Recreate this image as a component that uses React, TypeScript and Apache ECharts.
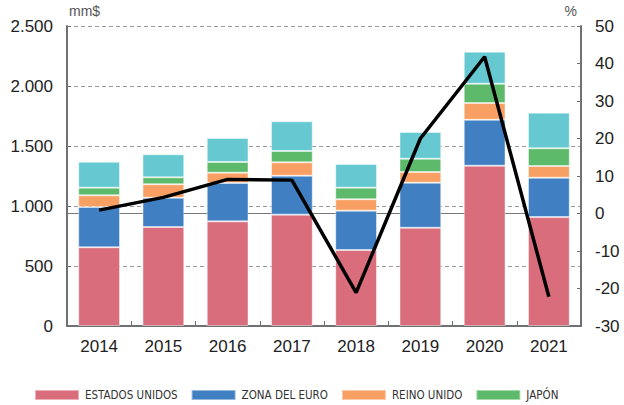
import React, { useEffect, useRef } from "react";
import * as echarts from "echarts";

const years = ["2014", "2015", "2016", "2017", "2018", "2019", "2020", "2021"];
const estadosUnidos = [656, 825, 872, 928, 633, 819, 1336, 908];
const zonaEuro = [336, 244, 320, 325, 328, 375, 383, 328];
const reinoUnido = [97, 112, 86, 111, 95, 89, 139, 97];
const japon = [64, 58, 89, 94, 97, 111, 161, 148];
const resto = [216, 192, 200, 248, 197, 223, 267, 297];
const variacion = [0.9, 4.3, 9.1, 8.9, -21.1, 20.0, 41.8, -22.2];

const barNames = ["ESTADOS UNIDOS", "ZONA DEL EURO", "REINO UNIDO", "JAPÓN", "RESTO"];
const legendNames = ["ESTADOS UNIDOS", "ZONA DEL EURO", "REINO UNIDO", "JAPÓN"];
const barColors = ["#D96D7C", "#3F7FC2", "#F89F63", "#5DBA6A", "#66C9D1"];
const lineName = "TASA DE VARIACIÓN";

export default function App() {
  const ref = useRef<HTMLDivElement>(null);
  useEffect(() => {
    if (!ref.current) return;
    const chart = echarts.init(ref.current, undefined, { renderer: "svg" });
    const barData = [estadosUnidos, zonaEuro, reinoUnido, japon, resto];
    const axisFont = { fontFamily: "Liberation Sans, Arial, sans-serif", fontSize: 17, color: "#222" };
    const axisLine = { show: true, lineStyle: { color: "#6f7073", width: 2 } };
    chart.setOption({
      animation: false,
      grid: { left: 67, right: 43, top: 26, bottom: 79 },
      legend: {
        left: 34,
        top: 389,
        padding: 0,
        width: 600,
        itemWidth: 44,
        itemHeight: 10,
        itemGap: 13,
        icon: "rect",
        textStyle: {
          fontFamily: "DejaVu Sans Condensed, sans-serif",
          fontSize: 11.5,
          color: "#333",
          padding: [0, 0, 0, 1],
        },
        data: legendNames,
      },
      xAxis: {
        type: "category",
        data: years,
        axisLine: axisLine,
        axisTick: { show: true, inside: true, length: 5, lineStyle: { color: "#6f7073", width: 1 } },
        axisLabel: { ...axisFont, margin: 12 },
      },
      yAxis: [
        {
          type: "value",
          min: 0,
          max: 2500,
          interval: 500,
          name: "mm$",
          nameLocation: "end",
          nameGap: 8,
          nameTextStyle: { fontFamily: "Liberation Sans, Arial, sans-serif", fontSize: 14, color: "#555", align: "left", padding: [0, 0, 0, 2] },
          axisLine: axisLine,
          axisTick: { show: true, inside: true, length: 4, lineStyle: { color: "#6f7073" } },
          axisLabel: {
            ...axisFont,
            margin: 14,
            formatter: (v: number) => v.toLocaleString("de-DE"),
          },
          splitLine: { show: true, lineStyle: { color: "#9a9a9a", type: [4, 3], width: 1 } },
        },
        {
          type: "value",
          min: -30,
          max: 50,
          interval: 10,
          name: "%",
          nameLocation: "end",
          nameGap: 8,
          nameTextStyle: { fontFamily: "Liberation Sans, Arial, sans-serif", fontSize: 14, color: "#555", align: "right", padding: [0, 4, 0, 0] },
          axisLine: axisLine,
          axisTick: { show: true, inside: true, length: 4, lineStyle: { color: "#6f7073" } },
          axisLabel: { ...axisFont, margin: 14 },
          splitLine: { show: false },
        },
      ],
      series: [
        ...barNames.map((name, i) => ({
          name,
          type: "bar",
          stack: "total",
          barWidth: "65%",
          data: barData[i],
          itemStyle: { color: barColors[i], borderColor: "rgba(255,255,255,0.45)", borderWidth: 1 },
        })),
        {
          name: lineName,
          type: "line",
          yAxisIndex: 1,
          data: variacion,
          symbol: "none",
          z: 5,
          lineStyle: { color: "#000", width: 3.5 },
          itemStyle: { color: "#000" },
          markLine: {
            silent: true,
            symbol: ["none", "none"],
            label: { show: false },
            lineStyle: { color: "#777", width: 1, type: "solid" },
            z: 1,
            data: [[{ x: 67, xAxis: years[0], yAxis: 0 }, { xAxis: years[years.length - 1], yAxis: 0 }]],
          },
        },
      ],
    });
    return () => chart.dispose();
  }, []);
  return <div ref={ref} style={{ width: 624, height: 405, position: "absolute", left: 0, top: 0 }} />;
}
